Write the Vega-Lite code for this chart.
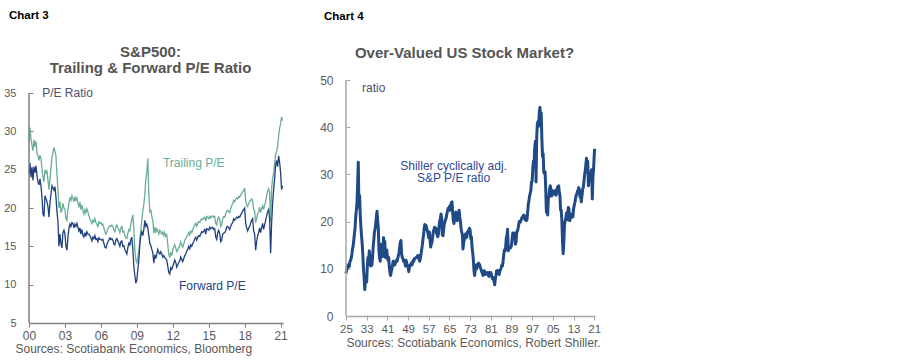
{
"$schema": "https://vega.github.io/schema/vega-lite/v6.json",
"background": "white",
"padding": {"left": 3, "top": 9, "right": 5, "bottom": 2},
"bounds": "flush",
"spacing": 63,
"config": {"view": {"stroke": null}, "font": "Liberation Sans", "axis": {"grid": false, "labelOverlap": false, "labelFont": "Liberation Sans", "titleFont": "Liberation Sans"}, "title": {"font": "Liberation Sans"}, "text": {"font": "Liberation Sans"}},
"datasets": {
"pe": [
{"t":2000.000,"a":28.6,"b":24.4},{"t":2000.083,"a":30.5,"b":25.9},{"t":2000.167,"a":29.0,"b":24.0},{"t":2000.250,"a":28.2,"b":25.3},{"t":2000.333,"a":27.5,"b":23.6},{"t":2000.417,"a":28.9,"b":25.4},{"t":2000.500,"a":28.0,"b":24.6},{"t":2000.583,"a":28.7,"b":25.5},{"t":2000.667,"a":27.2,"b":24.2},{"t":2000.750,"a":26.8,"b":23.4},{"t":2000.833,"a":26.2,"b":23.0},{"t":2000.917,"a":26.9,"b":23.8},
{"t":2001.000,"a":26.4,"b":22.9},{"t":2001.083,"a":25.2,"b":21.4},{"t":2001.167,"a":24.0,"b":19.2},{"t":2001.250,"a":23.4,"b":18.9},{"t":2001.333,"a":25.0,"b":21.6},{"t":2001.417,"a":24.6,"b":21.2},{"t":2001.500,"a":24.8,"b":20.8},{"t":2001.583,"a":23.6,"b":20.2},{"t":2001.667,"a":22.4,"b":18.8},{"t":2001.750,"a":23.8,"b":20.6},{"t":2001.833,"a":25.2,"b":21.8},{"t":2001.917,"a":26.6,"b":22.9},
{"t":2002.000,"a":27.2,"b":22.6},{"t":2002.083,"a":27.9,"b":22.3},{"t":2002.167,"a":27.4,"b":22.8},{"t":2002.250,"a":26.8,"b":21.4},{"t":2002.333,"a":24.4,"b":19.6},{"t":2002.417,"a":22.4,"b":18.2},{"t":2002.500,"a":20.0,"b":15.0},{"t":2002.583,"a":20.8,"b":16.6},{"t":2002.667,"a":19.4,"b":15.4},{"t":2002.750,"a":19.7,"b":14.8},{"t":2002.833,"a":20.6,"b":16.8},{"t":2002.917,"a":20.0,"b":17.1},
{"t":2003.000,"a":19.8,"b":16.6},{"t":2003.083,"a":18.6,"b":15.0},{"t":2003.167,"a":18.4,"b":14.5},{"t":2003.250,"a":19.8,"b":16.2},{"t":2003.333,"a":20.6,"b":17.3},{"t":2003.417,"a":21.4,"b":17.9},{"t":2003.500,"a":21.0,"b":17.6},{"t":2003.583,"a":21.6,"b":18.1},{"t":2003.667,"a":21.2,"b":18.0},{"t":2003.750,"a":20.8,"b":17.4},{"t":2003.833,"a":21.5,"b":17.9},{"t":2003.917,"a":21.0,"b":17.6},
{"t":2004.000,"a":21.3,"b":18.0},{"t":2004.083,"a":20.6,"b":17.5},{"t":2004.167,"a":20.2,"b":17.0},{"t":2004.250,"a":20.8,"b":17.4},{"t":2004.333,"a":19.8,"b":16.6},{"t":2004.417,"a":20.4,"b":17.2},{"t":2004.500,"a":19.6,"b":16.4},{"t":2004.583,"a":19.2,"b":16.2},{"t":2004.667,"a":19.8,"b":16.8},{"t":2004.750,"a":19.4,"b":16.3},{"t":2004.833,"a":19.9,"b":16.9},{"t":2004.917,"a":19.5,"b":16.6},
{"t":2005.000,"a":19.0,"b":16.6},{"t":2005.083,"a":18.6,"b":16.4},{"t":2005.167,"a":18.3,"b":16.1},{"t":2005.250,"a":18.0,"b":15.7},{"t":2005.333,"a":18.4,"b":16.2},{"t":2005.417,"a":18.2,"b":16.0},{"t":2005.500,"a":18.6,"b":16.4},{"t":2005.583,"a":18.1,"b":15.9},{"t":2005.667,"a":17.9,"b":16.0},{"t":2005.750,"a":17.5,"b":15.6},{"t":2005.833,"a":18.2,"b":16.1},{"t":2005.917,"a":18.0,"b":15.9},
{"t":2006.000,"a":18.1,"b":15.9},{"t":2006.083,"a":17.8,"b":15.8},{"t":2006.167,"a":17.9,"b":15.9},{"t":2006.250,"a":17.4,"b":15.4},{"t":2006.333,"a":16.9,"b":14.9},{"t":2006.417,"a":16.6,"b":14.8},{"t":2006.500,"a":16.9,"b":15.2},{"t":2006.583,"a":17.3,"b":15.6},{"t":2006.667,"a":17.5,"b":15.8},{"t":2006.750,"a":17.7,"b":16.1},{"t":2006.833,"a":17.6,"b":15.9},{"t":2006.917,"a":17.8,"b":16.0},
{"t":2007.000,"a":17.6,"b":15.8},{"t":2007.083,"a":17.1,"b":15.3},{"t":2007.167,"a":16.9,"b":15.2},{"t":2007.250,"a":17.5,"b":15.8},{"t":2007.333,"a":17.8,"b":16.0},{"t":2007.417,"a":17.4,"b":15.7},{"t":2007.500,"a":17.2,"b":15.4},{"t":2007.583,"a":16.8,"b":15.0},{"t":2007.667,"a":17.4,"b":15.6},{"t":2007.750,"a":17.6,"b":15.7},{"t":2007.833,"a":16.9,"b":15.0},{"t":2007.917,"a":17.0,"b":15.1},
{"t":2008.000,"a":16.4,"b":14.6},{"t":2008.083,"a":16.1,"b":14.3},{"t":2008.167,"a":16.0,"b":14.0},{"t":2008.250,"a":16.7,"b":14.8},{"t":2008.333,"a":17.2,"b":15.5},{"t":2008.417,"a":17.0,"b":15.1},{"t":2008.500,"a":17.9,"b":15.9},{"t":2008.583,"a":18.6,"b":16.2},{"t":2008.667,"a":19.1,"b":14.6},{"t":2008.750,"a":17.2,"b":12.4},{"t":2008.833,"a":14.6,"b":11.2},{"t":2008.917,"a":13.2,"b":10.2},
{"t":2009.000,"a":12.9,"b":10.6},{"t":2009.083,"a":13.6,"b":12.0},{"t":2009.167,"a":14.4,"b":13.2},{"t":2009.250,"a":15.8,"b":15.2},{"t":2009.333,"a":17.2,"b":16.4},{"t":2009.417,"a":18.4,"b":16.9},{"t":2009.500,"a":19.7,"b":16.4},{"t":2009.583,"a":20.4,"b":17.2},{"t":2009.667,"a":21.8,"b":18.4},{"t":2009.750,"a":23.7,"b":17.6},{"t":2009.833,"a":24.6,"b":17.9},{"t":2009.917,"a":26.5,"b":17.4},
{"t":2010.000,"a":22.0,"b":16.4},{"t":2010.083,"a":19.4,"b":15.4},{"t":2010.167,"a":19.8,"b":15.1},{"t":2010.250,"a":18.9,"b":14.6},{"t":2010.333,"a":18.4,"b":14.2},{"t":2010.417,"a":16.7,"b":12.8},{"t":2010.500,"a":17.5,"b":13.9},{"t":2010.583,"a":16.8,"b":13.4},{"t":2010.667,"a":17.3,"b":14.0},{"t":2010.750,"a":17.0,"b":14.6},{"t":2010.833,"a":16.6,"b":14.2},{"t":2010.917,"a":17.1,"b":14.0},
{"t":2011.000,"a":16.8,"b":14.3},{"t":2011.083,"a":16.6,"b":14.0},{"t":2011.167,"a":16.9,"b":13.6},{"t":2011.250,"a":16.4,"b":13.8},{"t":2011.333,"a":16.8,"b":13.5},{"t":2011.417,"a":16.3,"b":13.4},{"t":2011.500,"a":16.5,"b":13.2},{"t":2011.583,"a":15.2,"b":12.4},{"t":2011.667,"a":14.0,"b":11.6},{"t":2011.750,"a":13.5,"b":11.4},{"t":2011.833,"a":14.2,"b":12.2},{"t":2011.917,"a":13.8,"b":12.0},
{"t":2012.000,"a":14.6,"b":12.4},{"t":2012.083,"a":14.9,"b":12.8},{"t":2012.167,"a":15.2,"b":13.2},{"t":2012.250,"a":14.8,"b":12.9},{"t":2012.333,"a":14.3,"b":12.3},{"t":2012.417,"a":14.5,"b":12.6},{"t":2012.500,"a":14.8,"b":12.9},{"t":2012.583,"a":15.1,"b":13.1},{"t":2012.667,"a":15.6,"b":13.6},{"t":2012.750,"a":15.2,"b":13.3},{"t":2012.833,"a":14.9,"b":13.0},{"t":2012.917,"a":15.3,"b":13.4},
{"t":2013.000,"a":15.8,"b":13.8},{"t":2013.083,"a":16.0,"b":14.0},{"t":2013.167,"a":16.3,"b":14.4},{"t":2013.250,"a":16.4,"b":14.6},{"t":2013.333,"a":16.8,"b":15.0},{"t":2013.417,"a":16.5,"b":14.7},{"t":2013.500,"a":17.0,"b":15.2},{"t":2013.583,"a":16.8,"b":15.0},{"t":2013.667,"a":17.2,"b":15.4},{"t":2013.750,"a":17.5,"b":15.6},{"t":2013.833,"a":17.8,"b":16.0},{"t":2013.917,"a":18.0,"b":16.2},
{"t":2014.000,"a":17.6,"b":15.8},{"t":2014.083,"a":18.0,"b":16.2},{"t":2014.167,"a":18.2,"b":16.4},{"t":2014.250,"a":18.1,"b":16.3},{"t":2014.333,"a":18.4,"b":16.6},{"t":2014.417,"a":18.6,"b":16.9},{"t":2014.500,"a":18.5,"b":16.8},{"t":2014.583,"a":18.7,"b":17.0},{"t":2014.667,"a":18.8,"b":17.2},{"t":2014.750,"a":18.3,"b":16.6},{"t":2014.833,"a":18.9,"b":17.3},{"t":2014.917,"a":18.8,"b":17.2},
{"t":2015.000,"a":18.6,"b":17.1},{"t":2015.083,"a":18.9,"b":17.5},{"t":2015.167,"a":18.7,"b":17.3},{"t":2015.250,"a":18.9,"b":17.4},{"t":2015.333,"a":19.0,"b":17.5},{"t":2015.417,"a":18.8,"b":17.2},{"t":2015.500,"a":18.9,"b":17.3},{"t":2015.583,"a":18.0,"b":16.2},{"t":2015.667,"a":17.8,"b":15.9},{"t":2015.750,"a":18.6,"b":16.8},{"t":2015.833,"a":18.8,"b":17.1},{"t":2015.917,"a":18.5,"b":16.7},
{"t":2016.000,"a":17.6,"b":15.6},{"t":2016.083,"a":17.8,"b":15.8},{"t":2016.167,"a":18.6,"b":16.6},{"t":2016.250,"a":18.9,"b":16.7},{"t":2016.333,"a":18.8,"b":16.8},{"t":2016.417,"a":19.2,"b":17.0},{"t":2016.500,"a":19.6,"b":17.5},{"t":2016.583,"a":19.7,"b":17.6},{"t":2016.667,"a":19.5,"b":17.4},{"t":2016.750,"a":19.4,"b":17.2},{"t":2016.833,"a":19.9,"b":17.6},{"t":2016.917,"a":20.3,"b":17.9},
{"t":2017.000,"a":20.6,"b":18.1},{"t":2017.083,"a":21.0,"b":18.6},{"t":2017.167,"a":20.8,"b":18.4},{"t":2017.250,"a":21.1,"b":18.6},{"t":2017.333,"a":21.3,"b":18.8},{"t":2017.417,"a":21.2,"b":18.7},{"t":2017.500,"a":21.5,"b":18.9},{"t":2017.583,"a":21.4,"b":18.8},{"t":2017.667,"a":21.7,"b":19.1},{"t":2017.750,"a":21.9,"b":19.3},{"t":2017.833,"a":22.1,"b":19.6},{"t":2017.917,"a":22.3,"b":19.8},
{"t":2018.000,"a":22.6,"b":20.0},{"t":2018.083,"a":21.0,"b":18.0},{"t":2018.167,"a":20.4,"b":17.4},{"t":2018.250,"a":20.2,"b":17.0},{"t":2018.333,"a":20.6,"b":17.4},{"t":2018.417,"a":20.8,"b":17.6},{"t":2018.500,"a":21.0,"b":18.0},{"t":2018.583,"a":21.2,"b":18.4},{"t":2018.667,"a":20.9,"b":18.6},{"t":2018.750,"a":19.8,"b":17.0},{"t":2018.833,"a":19.6,"b":16.6},{"t":2018.917,"a":18.1,"b":14.5},
{"t":2019.000,"a":18.6,"b":15.6},{"t":2019.083,"a":19.3,"b":16.4},{"t":2019.167,"a":19.5,"b":16.8},{"t":2019.250,"a":20.1,"b":17.4},{"t":2019.333,"a":19.4,"b":16.8},{"t":2019.417,"a":19.9,"b":17.4},{"t":2019.500,"a":20.3,"b":18.0},{"t":2019.583,"a":19.8,"b":17.2},{"t":2019.667,"a":20.4,"b":17.8},{"t":2019.750,"a":20.8,"b":18.4},{"t":2019.833,"a":21.6,"b":19.0},{"t":2019.917,"a":22.2,"b":19.5},
{"t":2020.000,"a":22.5,"b":19.8},{"t":2020.083,"a":22.0,"b":18.6},{"t":2020.167,"a":18.2,"b":14.1},{"t":2020.250,"a":22.6,"b":18.0},{"t":2020.333,"a":23.8,"b":20.6},{"t":2020.417,"a":24.6,"b":22.4},{"t":2020.500,"a":25.8,"b":23.8},{"t":2020.583,"a":27.0,"b":25.6},{"t":2020.667,"a":27.4,"b":26.2},{"t":2020.750,"a":28.0,"b":25.4},{"t":2020.833,"a":29.4,"b":26.8},{"t":2020.917,"a":30.4,"b":26.0},
{"t":2021.000,"a":31.0,"b":24.6},{"t":2021.083,"a":31.9,"b":22.4},{"t":2021.167,"a":31.4,"b":22.9}
],
"cape": [
{"t":1925,"v":9.0},{"t":1925.25,"v":9.8},{"t":1925.5,"v":10.2},{"t":1925.75,"v":10.6},
{"t":1926,"v":10.9},{"t":1926.25,"v":10.4},{"t":1926.5,"v":11.5},{"t":1926.75,"v":11.8},
{"t":1927,"v":12.2},{"t":1927.25,"v":13.0},{"t":1927.5,"v":14.2},{"t":1927.75,"v":14.8},
{"t":1928,"v":16.0},{"t":1928.25,"v":17.4},{"t":1928.5,"v":18.6},{"t":1928.75,"v":21.0},
{"t":1929,"v":22.4},{"t":1929.25,"v":24.0},{"t":1929.5,"v":28.0},{"t":1929.75,"v":32.6},
{"t":1930,"v":23.0},{"t":1930.25,"v":25.6},{"t":1930.5,"v":21.6},{"t":1930.75,"v":19.0},
{"t":1931,"v":17.0},{"t":1931.25,"v":15.4},{"t":1931.5,"v":13.0},{"t":1931.75,"v":10.2},
{"t":1932,"v":8.2},{"t":1932.25,"v":5.6},{"t":1932.5,"v":7.4},{"t":1932.75,"v":8.4},
{"t":1933,"v":7.2},{"t":1933.25,"v":10.6},{"t":1933.5,"v":12.4},{"t":1933.75,"v":11.0},
{"t":1934,"v":13.8},{"t":1934.25,"v":12.6},{"t":1934.5,"v":10.6},{"t":1934.75,"v":11.6},
{"t":1935,"v":10.8},{"t":1935.25,"v":12.2},{"t":1935.5,"v":14.6},{"t":1935.75,"v":16.0},
{"t":1936,"v":17.8},{"t":1936.25,"v":18.4},{"t":1936.5,"v":19.6},{"t":1936.75,"v":21.0},
{"t":1937,"v":22.2},{"t":1937.25,"v":20.2},{"t":1937.5,"v":18.6},{"t":1937.75,"v":13.8},
{"t":1938,"v":12.2},{"t":1938.25,"v":11.6},{"t":1938.5,"v":14.6},{"t":1938.75,"v":15.2},
{"t":1939,"v":14.4},{"t":1939.25,"v":12.6},{"t":1939.5,"v":16.6},{"t":1939.75,"v":15.4},
{"t":1940,"v":15.8},{"t":1940.25,"v":12.4},{"t":1940.5,"v":13.4},{"t":1940.75,"v":14.0},
{"t":1941,"v":12.6},{"t":1941.25,"v":11.8},{"t":1941.5,"v":12.4},{"t":1941.75,"v":10.4},
{"t":1942,"v":9.2},{"t":1942.25,"v":8.6},{"t":1942.5,"v":9.4},{"t":1942.75,"v":10.0},
{"t":1943,"v":10.8},{"t":1943.25,"v":11.6},{"t":1943.5,"v":11.0},{"t":1943.75,"v":10.8},
{"t":1944,"v":11.0},{"t":1944.25,"v":11.6},{"t":1944.5,"v":11.8},{"t":1944.75,"v":11.6},
{"t":1945,"v":12.2},{"t":1945.25,"v":12.8},{"t":1945.5,"v":13.4},{"t":1945.75,"v":14.6},
{"t":1946,"v":15.6},{"t":1946.25,"v":16.0},{"t":1946.5,"v":13.2},{"t":1946.75,"v":12.4},
{"t":1947,"v":12.2},{"t":1947.25,"v":11.6},{"t":1947.5,"v":11.8},{"t":1947.75,"v":11.4},
{"t":1948,"v":10.6},{"t":1948.25,"v":11.8},{"t":1948.5,"v":11.2},{"t":1948.75,"v":10.6},
{"t":1949,"v":10.4},{"t":1949.25,"v":9.4},{"t":1949.5,"v":10.2},{"t":1949.75,"v":10.8},
{"t":1950,"v":10.8},{"t":1950.25,"v":11.2},{"t":1950.5,"v":10.8},{"t":1950.75,"v":11.2},
{"t":1951,"v":11.8},{"t":1951.25,"v":11.6},{"t":1951.5,"v":12.2},{"t":1951.75,"v":12.2},
{"t":1952,"v":12.4},{"t":1952.25,"v":12.4},{"t":1952.5,"v":12.6},{"t":1952.75,"v":12.8},
{"t":1953,"v":12.8},{"t":1953.25,"v":12.0},{"t":1953.5,"v":11.6},{"t":1953.75,"v":12.2},
{"t":1954,"v":13.0},{"t":1954.25,"v":14.0},{"t":1954.5,"v":15.0},{"t":1954.75,"v":16.2},
{"t":1955,"v":17.2},{"t":1955.25,"v":18.6},{"t":1955.5,"v":19.4},{"t":1955.75,"v":18.6},
{"t":1956,"v":19.2},{"t":1956.25,"v":18.4},{"t":1956.5,"v":18.0},{"t":1956.75,"v":17.4},
{"t":1957,"v":16.6},{"t":1957.25,"v":17.8},{"t":1957.5,"v":16.0},{"t":1957.75,"v":14.6},
{"t":1958,"v":15.2},{"t":1958.25,"v":15.6},{"t":1958.5,"v":16.8},{"t":1958.75,"v":17.8},
{"t":1959,"v":18.2},{"t":1959.25,"v":18.8},{"t":1959.5,"v":18.4},{"t":1959.75,"v":18.6},
{"t":1960,"v":17.6},{"t":1960.25,"v":17.2},{"t":1960.5,"v":16.8},{"t":1960.75,"v":17.4},
{"t":1961,"v":19.0},{"t":1961.25,"v":20.2},{"t":1961.5,"v":20.6},{"t":1961.75,"v":21.6},
{"t":1962,"v":20.8},{"t":1962.25,"v":17.2},{"t":1962.5,"v":17.0},{"t":1962.75,"v":18.2},
{"t":1963,"v":19.4},{"t":1963.25,"v":20.0},{"t":1963.5,"v":20.4},{"t":1963.75,"v":20.8},
{"t":1964,"v":21.6},{"t":1964.25,"v":22.2},{"t":1964.5,"v":22.8},{"t":1964.75,"v":22.6},
{"t":1965,"v":23.2},{"t":1965.25,"v":22.4},{"t":1965.5,"v":23.6},{"t":1965.75,"v":24.0},
{"t":1966,"v":24.2},{"t":1966.25,"v":22.0},{"t":1966.5,"v":20.2},{"t":1966.75,"v":19.6},
{"t":1967,"v":20.6},{"t":1967.25,"v":21.6},{"t":1967.5,"v":22.0},{"t":1967.75,"v":21.2},
{"t":1968,"v":20.2},{"t":1968.25,"v":21.8},{"t":1968.5,"v":21.6},{"t":1968.75,"v":22.4},
{"t":1969,"v":21.0},{"t":1969.25,"v":20.0},{"t":1969.5,"v":18.6},{"t":1969.75,"v":17.8},
{"t":1970,"v":17.2},{"t":1970.25,"v":14.2},{"t":1970.5,"v":15.6},{"t":1970.75,"v":16.2},
{"t":1971,"v":17.0},{"t":1971.25,"v":17.4},{"t":1971.5,"v":16.6},{"t":1971.75,"v":16.8},
{"t":1972,"v":17.8},{"t":1972.25,"v":18.0},{"t":1972.5,"v":18.2},{"t":1972.75,"v":18.6},
{"t":1973,"v":18.2},{"t":1973.25,"v":16.4},{"t":1973.5,"v":16.8},{"t":1973.75,"v":14.6},
{"t":1974,"v":13.4},{"t":1974.25,"v":12.0},{"t":1974.5,"v":9.6},{"t":1974.75,"v":8.6},
{"t":1975,"v":9.8},{"t":1975.25,"v":10.8},{"t":1975.5,"v":10.0},{"t":1975.75,"v":10.4},
{"t":1976,"v":11.0},{"t":1976.25,"v":11.2},{"t":1976.5,"v":11.0},{"t":1976.75,"v":10.8},
{"t":1977,"v":10.2},{"t":1977.25,"v":9.8},{"t":1977.5,"v":9.4},{"t":1977.75,"v":9.0},
{"t":1978,"v":8.6},{"t":1978.25,"v":9.2},{"t":1978.5,"v":9.6},{"t":1978.75,"v":8.8},
{"t":1979,"v":9.0},{"t":1979.25,"v":9.0},{"t":1979.5,"v":9.2},{"t":1979.75,"v":8.8},
{"t":1980,"v":9.0},{"t":1980.25,"v":8.4},{"t":1980.5,"v":9.2},{"t":1980.75,"v":9.0},
{"t":1981,"v":9.2},{"t":1981.25,"v":8.8},{"t":1981.5,"v":8.0},{"t":1981.75,"v":8.2},
{"t":1982,"v":7.8},{"t":1982.25,"v":7.4},{"t":1982.5,"v":6.6},{"t":1982.75,"v":7.8},
{"t":1983,"v":8.6},{"t":1983.25,"v":9.6},{"t":1983.5,"v":9.4},{"t":1983.75,"v":9.6},
{"t":1984,"v":9.2},{"t":1984.25,"v":8.8},{"t":1984.5,"v":9.6},{"t":1984.75,"v":9.8},
{"t":1985,"v":10.2},{"t":1985.25,"v":10.8},{"t":1985.5,"v":10.6},{"t":1985.75,"v":11.6},
{"t":1986,"v":13.0},{"t":1986.25,"v":14.0},{"t":1986.5,"v":13.8},{"t":1986.75,"v":14.6},
{"t":1987,"v":16.6},{"t":1987.25,"v":17.0},{"t":1987.5,"v":18.4},{"t":1987.75,"v":13.8},
{"t":1988,"v":14.2},{"t":1988.25,"v":14.6},{"t":1988.5,"v":14.4},{"t":1988.75,"v":14.6},
{"t":1989,"v":15.0},{"t":1989.25,"v":16.4},{"t":1989.5,"v":17.6},{"t":1989.75,"v":17.4},
{"t":1990,"v":16.8},{"t":1990.25,"v":17.6},{"t":1990.5,"v":15.2},{"t":1990.75,"v":15.6},
{"t":1991,"v":17.6},{"t":1991.25,"v":18.0},{"t":1991.5,"v":18.4},{"t":1991.75,"v":19.2},
{"t":1992,"v":20.0},{"t":1992.25,"v":19.8},{"t":1992.5,"v":20.0},{"t":1992.75,"v":20.4},
{"t":1993,"v":20.8},{"t":1993.25,"v":20.8},{"t":1993.5,"v":21.2},{"t":1993.75,"v":21.4},
{"t":1994,"v":21.2},{"t":1994.25,"v":20.4},{"t":1994.5,"v":20.4},{"t":1994.75,"v":20.2},
{"t":1995,"v":20.4},{"t":1995.25,"v":22.0},{"t":1995.5,"v":23.6},{"t":1995.75,"v":24.4},
{"t":1996,"v":25.4},{"t":1996.25,"v":26.0},{"t":1996.5,"v":26.6},{"t":1996.75,"v":28.4},
{"t":1997,"v":28.6},{"t":1997.25,"v":31.4},{"t":1997.5,"v":32.8},{"t":1997.75,"v":32.4},
{"t":1998,"v":35.6},{"t":1998.25,"v":37.0},{"t":1998.5,"v":28.4},{"t":1998.75,"v":37.8},
{"t":1999,"v":40.6},{"t":1999.25,"v":41.2},{"t":1999.5,"v":40.2},{"t":1999.75,"v":43.0},
{"t":2000,"v":44.2},{"t":2000.25,"v":42.6},{"t":2000.5,"v":43.0},{"t":2000.75,"v":37.6},
{"t":2001,"v":33.8},{"t":2001.25,"v":34.4},{"t":2001.5,"v":30.4},{"t":2001.75,"v":30.2},
{"t":2002,"v":30.6},{"t":2002.25,"v":26.8},{"t":2002.5,"v":22.0},{"t":2002.75,"v":22.8},
{"t":2003,"v":21.4},{"t":2003.25,"v":24.8},{"t":2003.5,"v":25.4},{"t":2003.75,"v":27.0},
{"t":2004,"v":27.6},{"t":2004.25,"v":26.8},{"t":2004.5,"v":25.4},{"t":2004.75,"v":26.6},
{"t":2005,"v":26.4},{"t":2005.25,"v":25.8},{"t":2005.5,"v":26.4},{"t":2005.75,"v":26.2},
{"t":2006,"v":26.6},{"t":2006.25,"v":25.6},{"t":2006.5,"v":26.4},{"t":2006.75,"v":27.2},
{"t":2007,"v":27.4},{"t":2007.25,"v":27.6},{"t":2007.5,"v":26.2},{"t":2007.75,"v":25.4},
{"t":2008,"v":22.4},{"t":2008.25,"v":22.4},{"t":2008.5,"v":20.0},{"t":2008.75,"v":15.6},
{"t":2009,"v":13.2},{"t":2009.25,"v":15.8},{"t":2009.5,"v":19.2},{"t":2009.75,"v":20.2},
{"t":2010,"v":20.6},{"t":2010.25,"v":21.8},{"t":2010.5,"v":20.4},{"t":2010.75,"v":22.0},
{"t":2011,"v":23.0},{"t":2011.25,"v":22.6},{"t":2011.5,"v":20.2},{"t":2011.75,"v":20.6},
{"t":2012,"v":21.4},{"t":2012.25,"v":21.6},{"t":2012.5,"v":21.6},{"t":2012.75,"v":21.0},
{"t":2013,"v":22.6},{"t":2013.25,"v":23.4},{"t":2013.5,"v":24.0},{"t":2013.75,"v":24.8},
{"t":2014,"v":25.6},{"t":2014.25,"v":25.8},{"t":2014.5,"v":26.4},{"t":2014.75,"v":26.6},
{"t":2015,"v":27.2},{"t":2015.25,"v":26.8},{"t":2015.5,"v":25.2},{"t":2015.75,"v":25.8},
{"t":2016,"v":24.2},{"t":2016.25,"v":25.4},{"t":2016.5,"v":26.8},{"t":2016.75,"v":27.2},
{"t":2017,"v":28.4},{"t":2017.25,"v":29.8},{"t":2017.5,"v":30.6},{"t":2017.75,"v":32.0},
{"t":2018,"v":33.4},{"t":2018.25,"v":32.0},{"t":2018.5,"v":32.8},{"t":2018.75,"v":27.6},
{"t":2019,"v":29.0},{"t":2019.25,"v":29.6},{"t":2019.5,"v":29.4},{"t":2019.75,"v":30.4},
{"t":2020,"v":31.0},{"t":2020.25,"v":24.8},{"t":2020.5,"v":29.4},{"t":2020.75,"v":31.2},
{"t":2021,"v":34.0},{"t":2021.17,"v":35.4}
]
},
"hconcat": [
{
"width": 254, "height": 243,
"title": {"text": "Chart 3", "anchor": "start", "frame": "group", "dx": -20, "fontSize": 11.5, "fontWeight": "bold", "color": "#000000", "offset": 23},
"layer": [
{"data": {"name": "pe"}, "mark": {"type": "line", "color": "#6aae96", "strokeWidth": 1.3},
 "encoding": {
  "x": {"field": "t", "type": "quantitative", "scale": {"domain": [2000, 2021.2], "nice": false, "zero": false},
   "axis": {"values": [2000,2003,2006,2009,2012,2015,2018,2021], "tickCount": 50, "labelExpr": "slice('0' + (datum.value % 100), -2)", "grid": false, "domainColor": "#7f7f7f", "domainWidth": 1.5, "tickColor": "#7f7f7f", "tickSize": 4, "labelFontSize": 12, "labelColor": "#595959", "labelPadding": 3, "labelFlush": false, "labelOverlap": false, "title": "Sources: Scotiabank Economics, Bloomberg", "titleFontSize": 12, "titleFontWeight": "normal", "titleColor": "#595959", "titleAlign": "left", "titleX": -14, "titlePadding": 2}},
  "y": {"field": "a", "type": "quantitative", "scale": {"domain": [5, 36.7], "nice": false, "zero": false},
   "axis": {"values": [5,10,15,20,25,30,35], "format": "d", "domain": false, "grid": false, "tickColor": "#7f7f7f", "tickSize": -4, "labelFontSize": 11, "labelColor": "#595959", "labelPadding": 17, "title": ["S&P500:", "Trailing & Forward P/E Ratio"], "titleAngle": 0, "titleX": 121, "titleY": -24, "titleAlign": "center", "titleBaseline": "alphabetic", "titleLineHeight": 16, "titleFontSize": 15, "titleFontWeight": "bold", "titleColor": "#555555"}}
 }},
{"data": {"name": "pe"}, "mark": {"type": "line", "color": "#1f3f7f", "strokeWidth": 1.3},
 "encoding": {
  "x": {"field": "t", "type": "quantitative", "scale": {"domain": [2000, 2021.2], "nice": false, "zero": false}},
  "y": {"field": "b", "type": "quantitative", "scale": {"domain": [5, 36.7], "nice": false, "zero": false}}
 }},
{"data": {"values": [{}]}, "mark": {"type": "rule", "color": "#7f7f7f", "strokeWidth": 1.5},
 "encoding": {
  "x": {"datum": 2000, "type": "quantitative"},
  "y": {"datum": 5, "type": "quantitative"},
  "y2": {"datum": 35}
 }},
{"data": {"values": [{}]}, "mark": {"type": "text", "text": "P/E Ratio", "align": "left", "baseline": "middle", "fontSize": 12, "color": "#50506a"},
 "encoding": {"x": {"datum": 2001.1, "type": "quantitative"}, "y": {"datum": 35, "type": "quantitative"}}},
{"data": {"values": [{}]}, "mark": {"type": "text", "text": "Trailing P/E", "align": "center", "baseline": "middle", "fontSize": 12, "color": "#6aae96"},
 "encoding": {"x": {"datum": 2013.75, "type": "quantitative"}, "y": {"datum": 25.9, "type": "quantitative"}}},
{"data": {"values": [{}]}, "mark": {"type": "text", "text": "Forward P/E", "align": "center", "baseline": "middle", "fontSize": 12, "color": "#2b3c8a"},
 "encoding": {"x": {"datum": 2015.3, "type": "quantitative"}, "y": {"datum": 9.85, "type": "quantitative"}}}
]
},
{
"width": 249, "height": 243,
"title": {"text": "Chart 4", "anchor": "start", "frame": "group", "dx": -22, "fontSize": 11.5, "fontWeight": "bold", "color": "#000000", "offset": 23},
"layer": [
{"data": {"name": "cape"}, "mark": {"type": "line", "color": "#1f4a86", "strokeWidth": 3, "strokeJoin": "round"},
 "encoding": {
  "x": {"field": "t", "type": "quantitative", "scale": {"domain": [1925, 2021.3], "nice": false, "zero": false},
   "axis": {"values": [1925,1933,1941,1949,1957,1965,1973,1981,1989,1997,2005,2013,2021], "tickCount": 50, "labelExpr": "slice('0' + (datum.value % 100), -2)", "offset": -7, "grid": false, "domainColor": "#a6a6a6", "domainWidth": 1.5, "tickColor": "#a6a6a6", "tickSize": 4, "labelFontSize": 11.5, "labelColor": "#595959", "labelPadding": 3, "labelFlush": false, "labelOverlap": false, "title": "Sources: Scotiabank Economics, Robert Shiller.", "titleFontSize": 12, "titleFontWeight": "normal", "titleColor": "#595959", "titleAlign": "center", "titleX": 127, "titlePadding": 3}},
  "y": {"field": "v", "type": "quantitative", "scale": {"domain": [-1.48, 50], "nice": false, "zero": false},
   "axis": {"values": [0,10,20,30,40,50], "format": "d", "domain": false, "grid": false, "tickColor": "#a6a6a6", "tickSize": -4, "labelFontSize": 12, "labelColor": "#595959", "labelPadding": 17, "title": "Over-Valued US Stock Market?", "titleAngle": 0, "titleX": 118, "titleY": -23, "titleAlign": "center", "titleBaseline": "alphabetic", "titleFontSize": 15, "titleFontWeight": "bold", "titleColor": "#555555"}}
 }},
{"data": {"values": [{}]}, "mark": {"type": "rule", "color": "#a6a6a6", "strokeWidth": 1.5},
 "encoding": {
  "x": {"datum": 1925, "type": "quantitative"},
  "y": {"datum": 0, "type": "quantitative"},
  "y2": {"datum": 50}
 }},
{"data": {"values": [{}]}, "mark": {"type": "text", "text": "ratio", "align": "left", "baseline": "middle", "fontSize": 12, "color": "#50506a"},
 "encoding": {"x": {"datum": 1931.2, "type": "quantitative"}, "y": {"datum": 48.4, "type": "quantitative"}}},
{"data": {"values": [{}]}, "mark": {"type": "text", "text": ["Shiller cyclically adj.", "S&P P/E ratio"], "align": "center", "baseline": "middle", "fontSize": 12, "lineHeight": 12.5, "color": "#2f4a96"},
 "encoding": {"x": {"datum": 1966.6, "type": "quantitative"}, "y": {"datum": 31.85, "type": "quantitative"}}}
]
}
]
}
